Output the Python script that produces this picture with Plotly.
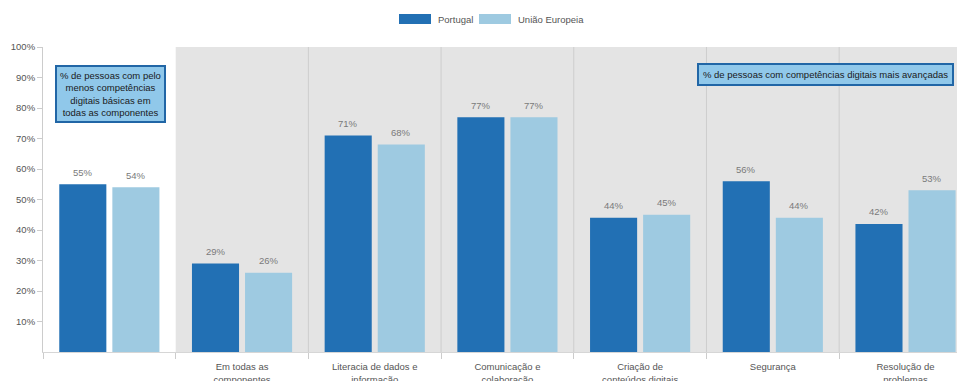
import plotly.graph_objects as go

# Data
categories = [" ", "Em todas as<br>componentes", "Literacia de dados e<br>informação",
              "Comunicação e<br>colaboração", "Criação de<br>conteúdos digitais",
              "Segurança", "Resolução de<br>problemas"]
portugal = [55, 29, 71, 77, 44, 56, 42]
uniao_europeia = [54, 26, 68, 77, 45, 44, 53]
y_ticks = [10, 20, 30, 40, 50, 60, 70, 80, 90, 100]
y_tick_labels = [f"{v}%" for v in y_ticks]

# Styling
W, H = 957, 381
M_L, M_R, M_T, M_B = 43, 0, 47, 29
PW, PH = W - M_L - M_R, H - M_T - M_B
C_PT = "#2270b4"
C_EU = "#9ecae1"
FONT = "Liberation Sans, Arial, sans-serif"
X_END = 6.388  # visible right end of the category axis


def px_x(px):
    return (px - M_L) / PW


def px_y(py):
    return (H - M_B - py) / PH


fig = go.Figure()
fig.add_bar(x=categories, y=portugal, name="Portugal", marker=dict(color=C_PT, line_width=0))
fig.add_bar(x=categories, y=uniao_europeia, name="União Europeia", marker=dict(color=C_EU, line_width=0))

shapes = []
# grey panel behind the advanced-skills categories
shapes.append(dict(type="rect", xref="x", yref="paper", x0=0.5, x1=X_END, y0=0, y1=1,
                   fillcolor="#e4e4e4", line_width=0, layer="below"))
for b in range(1, len(categories) - 1):
    shapes.append(dict(type="line", xref="x", yref="paper", x0=b + 0.5, x1=b + 0.5, y0=0, y1=1,
                       line=dict(color="#cdcdcd", width=1), layer="below"))

# legend swatches
shapes.append(dict(type="rect", xref="paper", yref="paper", x0=px_x(399), x1=px_x(431),
                   y0=px_y(24), y1=px_y(14), fillcolor=C_PT, line_width=0))
shapes.append(dict(type="rect", xref="paper", yref="paper", x0=px_x(479), x1=px_x(511),
                   y0=px_y(24), y1=px_y(14), fillcolor=C_EU, line_width=0))

annotations = []
annotations.append(dict(xref="paper", yref="paper", x=px_x(436), y=px_y(19), text="Portugal",
                        showarrow=False, xanchor="left", yanchor="middle",
                        font=dict(family=FONT, size=9.5, color="#555555")))
annotations.append(dict(xref="paper", yref="paper", x=px_x(516), y=px_y(19), text="União Europeia",
                        showarrow=False, xanchor="left", yanchor="middle",
                        font=dict(family=FONT, size=9.5, color="#555555")))

# value labels above each bar
for i, (p, e) in enumerate(zip(portugal, uniao_europeia)):
    for val, shift in ((p, -26.5), (e, 26.5)):
        annotations.append(dict(x=i, y=val, xref="x", yref="y", text=f"{val}%", showarrow=False,
                                xshift=shift, yshift=12, xanchor="center", yanchor="middle",
                                font=dict(family=FONT, size=9.5, color="#7a7a7a")))

# explanatory boxes
box_font = dict(family=FONT, size=9.5, color="#1a1a1a")
annotations.append(dict(xref="paper", yref="paper", x=px_x(110), y=px_y(93.5),
                        xanchor="center", yanchor="middle",
                        text="% de pessoas com pelo<br>menos competências<br>digitais básicas em<br>todas as componentes",
                        showarrow=False, align="center", bgcolor="#90c8ea", bordercolor="#2166a6",
                        borderwidth=2, borderpad=3, font=box_font))
annotations.append(dict(xref="paper", yref="paper", x=px_x(825), y=px_y(74.5),
                        xanchor="center", yanchor="middle",
                        text="% de pessoas com competências digitais mais avançadas",
                        showarrow=False, align="center", bgcolor="#90c8ea", bordercolor="#2166a6",
                        borderwidth=2, borderpad=4, font=box_font))

fig.update_layout(
    width=W, height=H,
    margin=dict(l=M_L, r=M_R, t=M_T, b=M_B, autoexpand=False),
    paper_bgcolor="white", plot_bgcolor="white",
    barmode="group", bargap=0.2, bargroupgap=0.113,
    showlegend=False,
    shapes=shapes, annotations=annotations,
    font=dict(family=FONT, size=9.5, color="#555555"),
)
fig.update_xaxes(
    type="category", range=[-0.5, X_END],
    tickson="boundaries", ticks="outside", ticklen=6, tickcolor="#cccccc",
    ticklabelstandoff=6,
    showline=True, linecolor="#d6d6d6", linewidth=1, showgrid=False, zeroline=False,
    tickfont=dict(family=FONT, size=9.5, color="#555555"), automargin=False, fixedrange=True,
)
fig.update_yaxes(
    range=[0, 100], tickmode="array", tickvals=y_ticks, ticktext=y_tick_labels,
    ticks="outside", ticklen=5, tickcolor="#cccccc",
    showline=True, linecolor="#cccccc", linewidth=1, showgrid=False, zeroline=False,
    tickfont=dict(family=FONT, size=9.5, color="#555555"), automargin=False, fixedrange=True,
)

fig.write_html("out.html", config={"displayModeBar": False})
